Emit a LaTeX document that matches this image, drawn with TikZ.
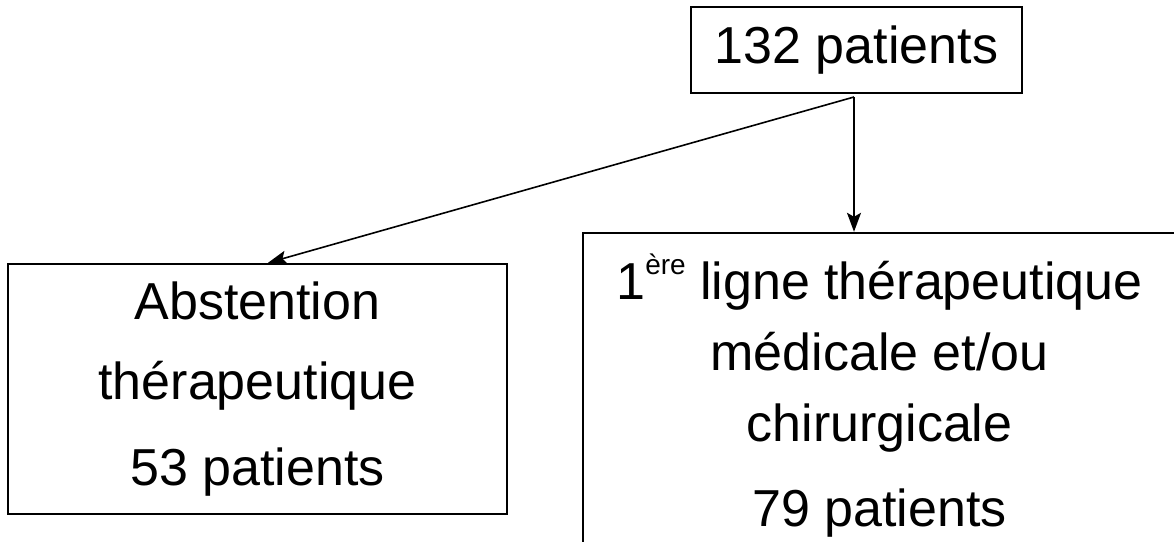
\documentclass[tikz,border=0pt]{standalone}
\usepackage{fontspec}
\setmainfont{Liberation Sans}
\usetikzlibrary{arrows.meta}
\begin{document}
\begin{tikzpicture}[x=1pt,y=1pt,
  box/.style={draw, line width=2.4pt, align=center, inner sep=0pt,
    font=\fontsize{52}{72}\selectfont},
  link/.style={line width=1.6pt, -{Stealth[length=19pt,width=14pt,inset=4pt]}}]
\useasboundingbox (0,0) rectangle (1174,-541);
\clip (0,0) rectangle (1174,-541);
% top box
\node[box, minimum width=331, minimum height=86] (total) at (856.5,-50) {132 patients};
% left branch
\node[box, minimum width=499, minimum height=250,
  font=\fontsize{52}{80}\selectfont] (abst) at (257.5,-389)
  {Abstention\\thérapeutique\\[6pt]53 patients};
% right branch (runs past the lower edge)
\node[box, minimum width=593, minimum height=326,
  font=\fontsize{52}{71}\selectfont] (treat) at (879.5,-396)
  {1\raisebox{0.48em}{\fontsize{28}{28}\selectfont ère} ligne thérapeutique\\médicale et/ou\\chirurgicale\\[14pt]79 patients};
% connectors
\coordinate (split) at (854,-97);
\draw[link] (split) -- (split |- treat.north);
\draw[link] (split) -- ([xshift=10.5pt]abst.north);
\end{tikzpicture}
\end{document}
